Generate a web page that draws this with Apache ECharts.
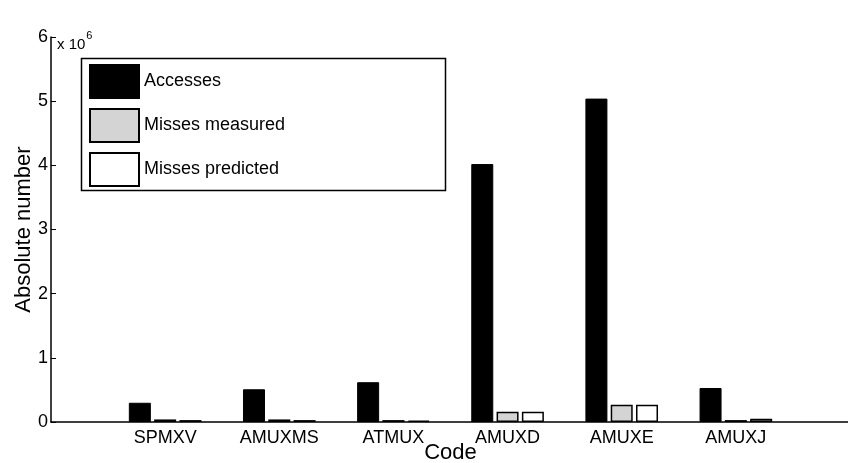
<!DOCTYPE html>
<html>
<head>
<meta charset="utf-8">
<script src="https://cdn.jsdelivr.net/npm/echarts@6/dist/echarts.min.js"></script>
<style>html,body{margin:0;padding:0;background:#fff}#c{width:848px;height:463px}</style>
</head>
<body>
<div id="c"></div>
<script>
var categories = ['', 'SPMXV', 'AMUXMS', 'ATMUX', 'AMUXD', 'AMUXE', 'AMUXJ', ''];
var accesses = [null, 300000, 510000, 620000, 4020000, 5040000, 530000, null];
var missesMeasured = [null, 40000, 40000, 30000, 160000, 270000, 30000, null];
var missesPredicted = [null, 30000, 30000, 20000, 160000, 270000, 50000, null];
var yTicks = [0, 1, 2, 3, 4, 5, 6];

var font = 'Liberation Sans, Arial, Helvetica, sans-serif';
var chart = echarts.init(document.getElementById('c'));
chart.setOption({
  animation: false,
  backgroundColor: '#fff',
  textStyle: { fontFamily: font, color: '#000' },
  grid: { left: 51, top: 37, width: 799, height: 385, containLabel: false, outerBoundsMode: 'none' },
  xAxis: {
    type: 'category',
    data: categories,
    boundaryGap: false,
    name: 'Code',
    nameLocation: 'middle',
    nameGap: 20,
    nameMoveOverlap: false,
    nameTextStyle: { fontSize: 22, color: '#000', fontFamily: font, verticalAlign: 'top' },
    axisLine: { lineStyle: { color: '#000', width: 1.5 } },
    axisTick: { show: false },
    axisLabel: { color: '#000', fontSize: 18, fontFamily: font, margin: 7, interval: 0 },
    splitLine: { show: false }
  },
  yAxis: {
    type: 'value',
    min: 0, max: 6000000, interval: 1000000,
    name: 'Absolute number',
    nameLocation: 'middle',
    nameGap: 16,
    nameMoveOverlap: false,
    nameRotate: 90,
    nameTextStyle: { fontSize: 22, color: '#000', fontFamily: font },
    axisLine: { show: true, lineStyle: { color: '#000', width: 1.5 } },
    axisTick: { show: true, inside: true, length: 5, lineStyle: { color: '#000' } },
    axisLabel: {
      color: '#000', fontSize: 18, fontFamily: font, margin: 3,
      formatter: function (v) { return String(yTicks[Math.round(v / 1000000)]); }
    },
    splitLine: { show: false }
  },
  legend: {
    orient: 'vertical',
    left: 89, top: 64, padding: 0,
    itemWidth: 49, itemHeight: 33, itemGap: 9,
    icon: 'rect',
    textStyle: { fontSize: 18, color: '#000', fontFamily: font },
    data: ['Accesses', 'Misses measured', 'Misses predicted']
  },
  graphic: [
    { type: 'rect', left: 79, top: 56, shape: { width: 364, height: 132 },
      style: { fill: 'none', stroke: '#000', lineWidth: 1.5 }, z: 100 },
    { type: 'text', left: 57, top: 30,
      style: { text: '{a|x 10}{b|6}', rich: {
        a: { fontSize: 15, fontFamily: font, fill: '#000', verticalAlign: 'bottom', padding: [7, 0, 0, 0] },
        b: { fontSize: 11, fontFamily: font, fill: '#000', verticalAlign: 'top', padding: [0, 0, 9, 1] } } } }
  ],
  series: [
    { name: 'Accesses', type: 'bar', data: accesses, barWidth: 22, barGap: '15%',
      itemStyle: { color: '#000', borderColor: '#000', borderWidth: 1 } },
    { name: 'Misses measured', type: 'bar', data: missesMeasured, barWidth: 22, barGap: '15%',
      itemStyle: { color: '#d4d4d4', borderColor: '#000', borderWidth: 1.5 } },
    { name: 'Misses predicted', type: 'bar', data: missesPredicted, barWidth: 22, barGap: '15%',
      itemStyle: { color: '#fff', borderColor: '#000', borderWidth: 1.5 } }
  ]
});
</script>
</body>
</html>
